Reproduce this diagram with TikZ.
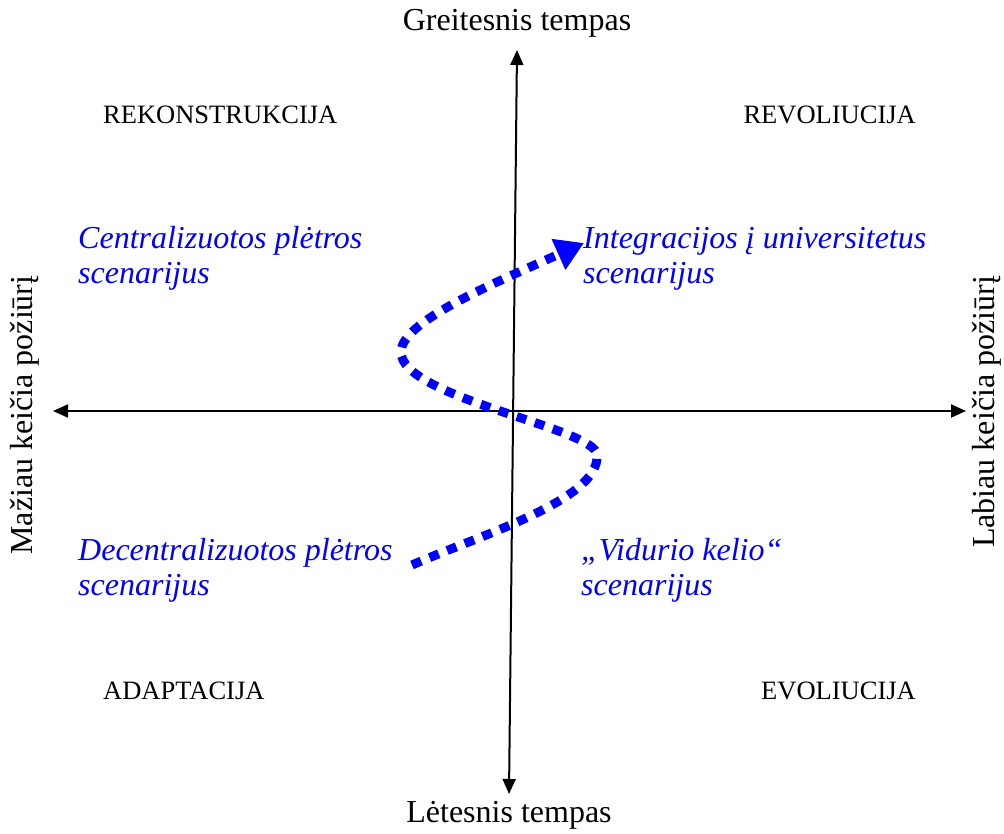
\documentclass[tikz,border=0pt]{standalone}
\usepackage{fontspec}
\setmainfont{Liberation Serif}
\usetikzlibrary{arrows.meta}
\definecolor{scenblue}{RGB}{0,0,255}
\tikzset{
  axis/.style={line width=2pt, {Triangle[length=15pt,width=13pt]}-{Triangle[length=15pt,width=13pt]}},
  axlabel/.style={inner sep=0pt, font=\fontsize{32}{36}\selectfont},
  quadlabel/.style={inner sep=0pt, font=\fontsize{26.5}{30}\selectfont},
  scenlabel/.style={inner sep=0pt, anchor=base west, align=left, text=scenblue, font=\fontsize{32}{35}\selectfont\itshape},
  pathline/.style={draw=scenblue, line width=9pt, dash pattern=on 10pt off 9pt, -{Triangle[length=28pt,width=32pt]}}
}
\begin{document}
\begin{tikzpicture}[x=1pt,y=-1pt]
\useasboundingbox (0,0) rectangle (1004,833);
% axes
\coordinate (vtop) at (517,50);
\coordinate (vbot) at (509,794);
\coordinate (hleft) at (53,411);
\coordinate (hright) at (966,411);
\draw[axis] (vbot) -- (vtop);
\draw[axis] (hleft) -- (hright);
% axis labels
\node[axlabel, anchor=base] (faster) at (517,30) {Greitesnis tempas};
\node[axlabel, anchor=base] (slower) at (509,822) {Lėtesnis tempas};
\node[axlabel, rotate=90] (less) at (25,415) {Mažiau keičia požiūrį};
\node[axlabel, rotate=90] (more) at (987,412) {Labiau keičia požiūrį};
% quadrant labels
\node[quadlabel, anchor=base west] (rekon) at (103,123) {REKONSTRUKCIJA};
\node[quadlabel, anchor=base east] (revol) at (916,123) {REVOLIUCIJA};
\node[quadlabel, anchor=base west] (adapt) at (103,699) {ADAPTACIJA};
\node[quadlabel, anchor=base east] (evol) at (916,699) {EVOLIUCIJA};
% scenario labels (base anchor = last line)
\node[scenlabel] (central) at (78,283) {Centralizuotos plėtros\\scenarijus};
\node[scenlabel] (integr) at (583,283) {Integracijos į universitetus\\scenarijus};
\node[scenlabel] (decentral) at (78,595) {Decentralizuotos plėtros\\scenarijus};
\node[scenlabel] (vidurio) at (581,595) {„Vidurio kelio“\\scenarijus};
% path
\coordinate (pstart) at (412,565);
\coordinate (pright) at (597,455);
\coordinate (pleft) at (401,352);
\coordinate (pend) at (584,243);
\draw[pathline] (pstart) .. controls (480,535) and (600,500) .. (pright)
  .. controls (597,428) and (401,398) .. (pleft)
  .. controls (401,322) and (490,285) .. (pend);
\end{tikzpicture}
\end{document}
